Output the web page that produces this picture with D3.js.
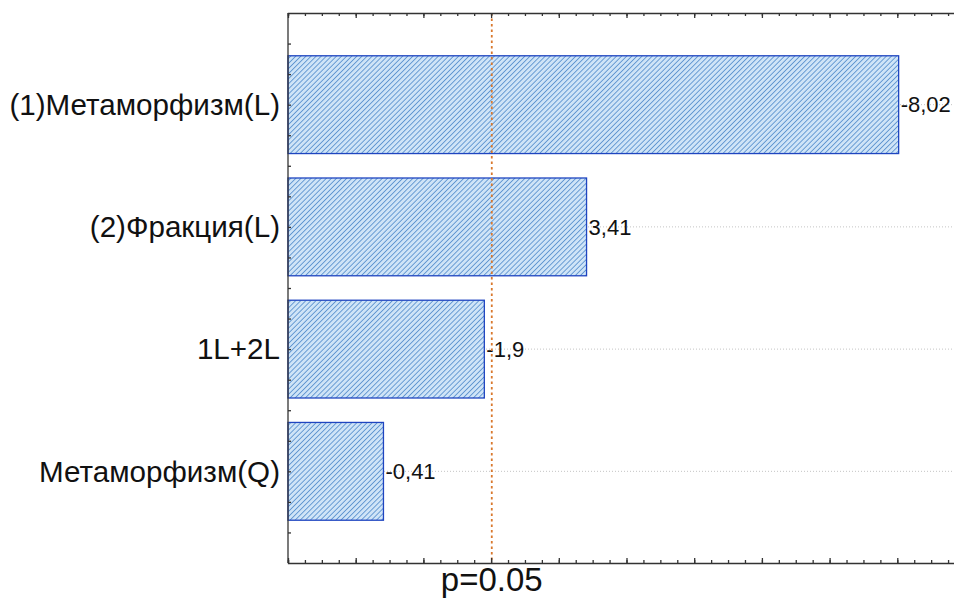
<!DOCTYPE html>
<html>
<head>
<meta charset="utf-8">
<script src="https://cdn.jsdelivr.net/npm/d3@7"></script>
<style>
  html, body { margin: 0; padding: 0; background: #fff; }
  svg { display: block; font-family: Arial, "Liberation Sans", sans-serif; }
</style>
</head>
<body>
<svg id="chart" width="954" height="599"></svg>
<script>
// ---- data ----
const categories = ["(1)Метаморфизм(L)", "(2)Фракция(L)", "1L+2L", "Метаморфизм(Q)"];
const effects = [-8.02, 3.41, -1.9, -0.41];
const valueLabels = ["-8,02", "3,41", "-1,9", "-0,41"];
const pCritical = 2.01;
const pLabel = "p=0.05";
const xDomain = [-1, 9];

// ---- layout ----
const svg = d3.select("#chart");
const plotLeft = 288, plotTop = 13, plotBottom = 563;
const unit = 67.7;
const x = d3.scaleLinear().domain(xDomain).range([plotLeft, plotLeft + unit * (xDomain[1] - xDomain[0])]);
const y = d3.scaleLinear().domain([-0.75, categories.length - 0.25]).range([plotTop, plotBottom]);
const barHalf = 0.4;

// hatch pattern
const defs = svg.append("defs");
const pat = defs.append("pattern")
  .attr("id", "hatch").attr("patternUnits", "userSpaceOnUse")
  .attr("width", 3.6).attr("height", 3.6)
  .attr("patternTransform", "rotate(45)");
pat.append("rect").attr("width", 3.6).attr("height", 3.6).attr("fill", "#cfe4f7");
pat.append("line").attr("x1", 0).attr("y1", 0).attr("x2", 0).attr("y2", 3.6)
  .attr("stroke", "#5f95d0").attr("stroke-width", 1.8);

// gridlines at category centers
svg.append("g").selectAll("line").data(categories).join("line")
  .attr("x1", plotLeft).attr("x2", 954)
  .attr("y1", (d, i) => y(i)).attr("y2", (d, i) => y(i))
  .attr("stroke", "#c4c4c4").attr("stroke-width", 1).attr("stroke-dasharray", "1,2");

// bars
svg.append("g").selectAll("rect").data(effects).join("rect")
  .attr("x", x(xDomain[0]))
  .attr("y", (d, i) => y(i - barHalf))
  .attr("width", d => x(Math.abs(d)) - x(xDomain[0]))
  .attr("height", y(barHalf) - y(-barHalf))
  .attr("fill", "url(#hatch)")
  .attr("stroke", "#1f45c0").attr("stroke-width", 1.3);

// value labels
svg.append("g").selectAll("text").data(effects).join("text")
  .attr("x", d => x(Math.abs(d)) + 2)
  .attr("y", (d, i) => y(i))
  .attr("dy", "0.35em")
  .attr("font-size", 22)
  .attr("fill", "#111")
  .text((d, i) => valueLabels[i]);

// category labels
svg.append("g").selectAll("text").data(categories).join("text")
  .attr("x", plotLeft - 8)
  .attr("y", (d, i) => y(i))
  .attr("dy", "0.35em")
  .attr("text-anchor", "end")
  .attr("font-size", 29.6)
  .attr("fill", "#111")
  .text(d => d);

// p line
svg.append("line")
  .attr("x1", x(pCritical)).attr("x2", x(pCritical))
  .attr("y1", plotTop).attr("y2", plotBottom)
  .attr("stroke", "#d9782d").attr("stroke-width", 1.8).attr("stroke-dasharray", "2.5,3");

svg.append("text")
  .attr("x", x(pCritical)).attr("y", 591)
  .attr("text-anchor", "middle")
  .attr("font-size", 33)
  .attr("fill", "#111")
  .text(pLabel);

// axes (ticks inward)
const majorTicks = d3.range(xDomain[0], xDomain[1] + 0.001, 1);
const minorTicks = d3.range(xDomain[0], xDomain[1] + 0.001, 0.25);
const axisColor = "#333";
function styleAxis(g) {
  g.selectAll("path,line").attr("stroke", axisColor).attr("stroke-width", 1.3);
}
svg.append("g").attr("transform", `translate(0,${plotBottom})`)
  .call(d3.axisTop(x).tickValues(minorTicks).tickSize(3).tickFormat("")).call(styleAxis);
svg.append("g").attr("transform", `translate(0,${plotBottom})`)
  .call(d3.axisTop(x).tickValues(majorTicks).tickSize(5).tickFormat("")).call(styleAxis)
  .select(".domain").remove();
svg.append("g").attr("transform", `translate(0,${plotTop})`)
  .call(d3.axisBottom(x).tickValues(minorTicks).tickSize(3).tickFormat("")).call(styleAxis);
svg.append("g").attr("transform", `translate(0,${plotTop})`)
  .call(d3.axisBottom(x).tickValues(majorTicks).tickSize(5).tickFormat("")).call(styleAxis)
  .select(".domain").remove();

const yTicks = d3.range(-0.5, categories.length - 0.5 + 0.001, 0.25);
svg.append("g").attr("transform", `translate(${plotLeft},0)`)
  .call(d3.axisRight(y).tickValues(yTicks).tickSize(3).tickFormat("")).call(styleAxis)
  .select(".domain").attr("d", `M0,${plotTop}V${plotBottom}`);
</script>
</body>
</html>
